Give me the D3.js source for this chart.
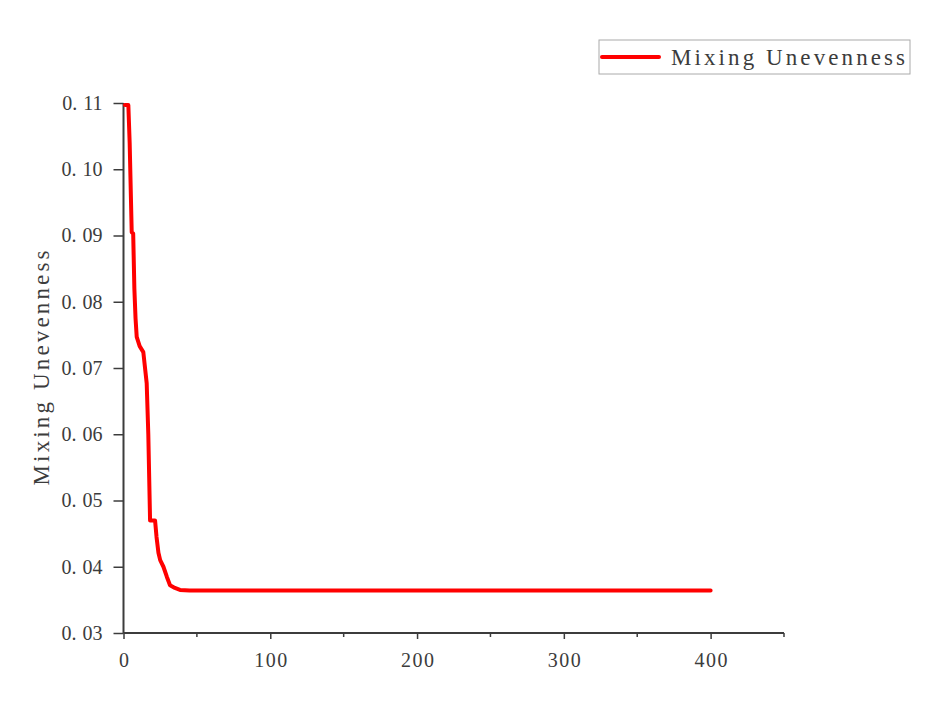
<!DOCTYPE html>
<html><head><meta charset="utf-8">
<script src="https://cdn.jsdelivr.net/npm/d3@7"></script>
<style>body{margin:0;background:#fff}</style>
</head><body>
<svg id="c" width="935" height="706"></svg>
<script>
const timeSteps = [1, 3.3, 4.2, 5.6, 6.6, 7.4, 8.2, 9, 11, 13.5, 15.8, 16.9, 18.1, 21.5, 22.5, 23.8, 25, 27.2, 29.5, 31.7, 35, 38.5, 45, 400];
const unevenness = [0.1097, 0.1097, 0.104, 0.0905, 0.0903, 0.082, 0.0775, 0.0747, 0.0733, 0.0724, 0.0677, 0.060, 0.047, 0.047, 0.0445, 0.0421, 0.041, 0.0400, 0.0385, 0.0372, 0.0368, 0.0365, 0.0364, 0.0364];
const xTicks = [0, 100, 200, 300, 400];
const xMinor = [50, 150, 250, 350, 450];
const yTicks = [0.03, 0.04, 0.05, 0.06, 0.07, 0.08, 0.09, 0.10, 0.11];
const seriesName = "Mixing Unevenness";
const yTitle = "Mixing Unevenness";

const svg = d3.select("#c");
const x = d3.scaleLinear().domain([0, 450]).range([123.5, 784]);
const y = d3.scaleLinear().domain([0.03, 0.11]).range([633, 103]);
const ink = "#3c3c3c";
const font = "'Liberation Serif', 'DejaVu Serif', serif";

// x axis
const xa = svg.append("g").attr("transform", `translate(0,${y(0.03)})`)
  .call(d3.axisBottom(x).tickValues(xTicks).tickSize(6).tickPadding(14).tickFormat(d3.format("d")));
xa.append("g").selectAll("line").data(xMinor).join("line")
  .attr("x1", d => x(d)).attr("x2", d => x(d)).attr("y1", 0).attr("y2", 4).attr("stroke", ink).attr("stroke-width", 1.5);
// y axis
const fmt = d3.format(".2f");
const ya = svg.append("g").attr("transform", `translate(${x(0)},0)`)
  .call(d3.axisLeft(y).tickValues(yTicks).tickSize(10).tickPadding(11).tickFormat(fmt));
[xa, ya].forEach(g => {
  g.select(".domain").attr("stroke", ink).attr("stroke-width", 2);
  g.selectAll(".tick line").attr("stroke", ink).attr("stroke-width", 1.5);
  g.selectAll(".tick text").attr("fill", ink).style("font-family", font).style("font-size", "20px");
});
ya.selectAll(".tick text").each(function(d) {
  const s = fmt(d), t = d3.select(this).text("");
  t.append("tspan").text(s.slice(0, 2));
  t.append("tspan").attr("dx", 6).text(s.slice(2));
});
xa.selectAll(".tick text").attr("textLength", d => String(d).length * 11).attr("lengthAdjust", "spacing");
xa.select(".domain").attr("d", `M${x(0)},0H${x(450)}`);
ya.select(".domain").attr("d", `M0,${y(0.03)}V${y(0.11)}`);

// line
svg.append("path")
  .datum(timeSteps.map((t, i) => [t, unevenness[i]]))
  .attr("fill", "none").attr("stroke", "#ff0000").attr("stroke-width", 4)
  .attr("stroke-linejoin", "round").attr("stroke-linecap", "round")
  .attr("d", d3.line().x(d => x(d[0])).y(d => y(d[1])));

// y title
svg.append("text").attr("transform", `translate(49,368) rotate(-90)`)
  .attr("text-anchor", "middle").attr("fill", ink)
  .attr("textLength", 235).attr("lengthAdjust", "spacing")
  .style("font-family", font).style("font-size", "23px").text(yTitle);

// legend
const lg = svg.append("g");
lg.append("rect").attr("x", 599).attr("y", 40).attr("width", 311).attr("height", 34)
  .attr("fill", "#fff").attr("stroke", "#aaa").attr("stroke-width", 1);
lg.append("line").attr("x1", 602).attr("x2", 659).attr("y1", 57).attr("y2", 57)
  .attr("stroke", "#ff0000").attr("stroke-width", 4).attr("stroke-linecap", "round");
lg.append("text").attr("x", 671).attr("y", 65).attr("fill", ink)
  .attr("textLength", 234).attr("lengthAdjust", "spacing")
  .style("font-family", font).style("font-size", "23px").text(seriesName);
</script>
</body></html>
